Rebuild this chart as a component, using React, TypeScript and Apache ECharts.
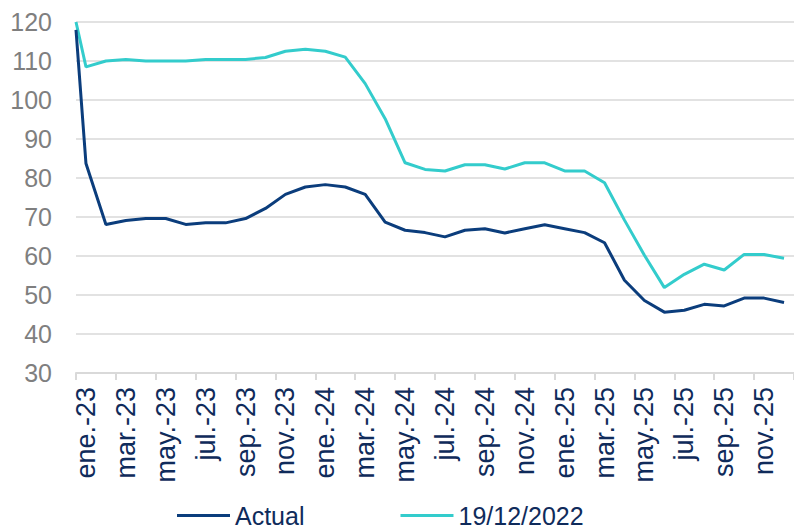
import React, { useEffect, useRef } from "react";
import * as echarts from "echarts";

const months = ["ene.", "feb.", "mar.", "abr.", "may.", "jun.", "jul.", "ago.", "sep.", "oct.", "nov.", "dic."];
const years = ["23", "24", "25"];
const categories: string[] = years.flatMap((y) => months.map((m) => `${m}-${y}`));

// value at 19/12/2022 (start of axis)
const actualStart = 118;
const baseStart = 120;

const actual = [
  83.7, 68.1, 69.1, 69.6, 69.6, 68.1, 68.5, 68.5, 69.6, 72.2, 75.8, 77.7,
  78.3, 77.7, 75.8, 68.7, 66.6, 66.0, 64.9, 66.6, 67.0, 65.9, 67.0, 68.0,
  67.0, 66.0, 63.4, 53.8, 48.6, 45.6, 46.1, 47.6, 47.2, 49.2, 49.2, 48.1,
];
const base = [
  108.5, 110.0, 110.4, 110.0, 110.0, 110.0, 110.4, 110.4, 110.4, 110.9, 112.5, 113.0,
  112.5, 111.0, 104.2, 95.2, 83.9, 82.2, 81.8, 83.4, 83.4, 82.3, 83.9, 83.9,
  81.8, 81.8, 78.8, 69.2, 60.2, 51.9, 55.3, 57.9, 56.4, 60.4, 60.4, 59.4,
];
const seriesNames = ["Actual", "19/12/2022"];

const toPoints = (start: number, vals: number[]) => [[0, start], ...vals.map((v, i) => [i + 0.5, v])];

export default function App() {
  const ref = useRef<HTMLDivElement>(null);
  useEffect(() => {
    if (!ref.current) return;
    const chart = echarts.init(ref.current, null, { renderer: "svg" });
    const font = "'Liberation Sans', Arial, sans-serif";
    chart.setOption({
      animation: false,
      grid: { left: 76, top: 22, width: 720, height: 351, containLabel: false },
      legend: {
        left: 177,
        top: 503,
        padding: 0,
        icon: "rect",
        itemWidth: 53,
        itemHeight: 3,
        itemGap: 96,
        textStyle: { fontFamily: font, fontSize: 25, lineHeight: 25, color: "#0f2b5b" },
        data: seriesNames,
      },
      xAxis: [
        {
          type: "category",
          data: categories,
          boundaryGap: true,
          position: "bottom",
          axisLine: { show: true, lineStyle: { color: "#d9d9d9", width: 2 } },
          axisTick: { show: true, interval: 1, length: 7, lineStyle: { color: "#d9d9d9", width: 2 } },
          axisLabel: {
            interval: 1,
            rotate: 90,
            margin: 14,
            fontFamily: font,
            fontSize: 27,
            color: "#0f2b5b",
          },
          splitLine: { show: false },
        },
        {
          type: "value",
          min: 0,
          max: 36,
          position: "top",
          show: false,
        },
      ],
      yAxis: {
        type: "value",
        min: 30,
        max: 120,
        interval: 10,
        axisLine: { show: false },
        axisTick: { show: false },
        axisLabel: { margin: 24, fontFamily: font, fontSize: 25, color: "#7f7f7f" },
        splitLine: { lineStyle: { color: "#d9d9d9", width: 1.5 } },
      },
      series: [
        {
          name: seriesNames[0],
          type: "line",
          xAxisIndex: 1,
          data: toPoints(actualStart, actual),
          showSymbol: false,
          symbol: "none",
          lineStyle: { color: "#0b3d7c", width: 3 },
          itemStyle: { color: "#0b3d7c" },
          z: 3,
        },
        {
          name: seriesNames[1],
          type: "line",
          xAxisIndex: 1,
          data: toPoints(baseStart, base),
          showSymbol: false,
          symbol: "none",
          lineStyle: { color: "#33cccc", width: 3 },
          itemStyle: { color: "#33cccc" },
          z: 2,
        },
      ],
    });
    return () => chart.dispose();
  }, []);
  return <div ref={ref} style={{ position: "absolute", left: 0, top: 0, width: 794, height: 528 }} />;
}
